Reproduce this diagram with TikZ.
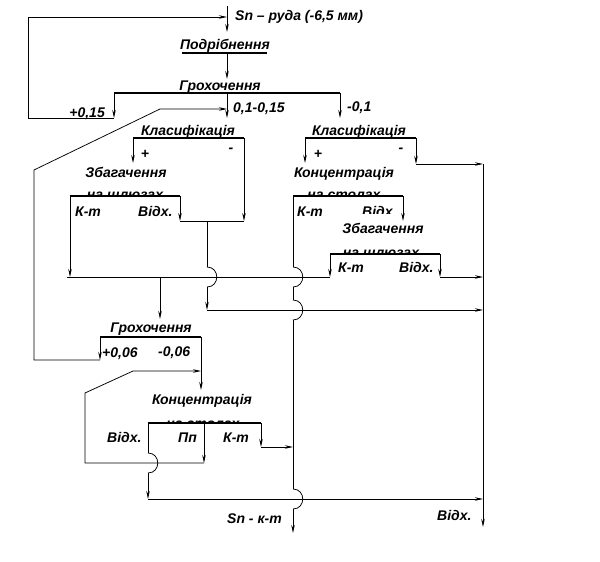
\documentclass[tikz,border=0pt]{standalone}
\usepackage{fontspec}
\setmainfont{Liberation Sans}
\newfontfamily\lblfam{Liberation Sans}
\usetikzlibrary{arrows.meta}
\tikzset{
  ln/.style={line width=0.75pt},
  arr/.style={ln,-{Stealth[length=8pt,width=3.5pt]}},
  procbar/.style={line width=2.6pt},
  lbl/.style={inner sep=0pt,font=\lblfam\bfseries\itshape\fontsize{14}{16}\selectfont},
  hump/.pic={\draw[ln] (0,-10) .. controls (13,-10) and (13,10) .. (0,10);}
}
\begin{document}
\begin{tikzpicture}[x=1pt,y=-1pt]
\useasboundingbox (0,0) rectangle (600,562);
% ---------- feed and crushing
\coordinate (feedTop) at (227,6);
\coordinate (feedIn) at (227,32);
\draw[arr] (feedTop) -- (feedIn);
\node[lbl,anchor=base west] (feed) at (235,20) {Sn – руда (-6,5 мм)};
\node[lbl,anchor=base] (crush) at (225,49) {Подрібнення};
\coordinate (crL) at (182,53); \coordinate (crR) at (267,53);
\draw[procbar] (crL) -- (crR);
\coordinate (crOut) at (227,54); \coordinate (scrIn) at (227,79);
\draw[arr] (crOut) -- (scrIn);
% ---------- screening 1
\node[lbl,anchor=base] (scr1) at (220,90) {Грохочення};
\coordinate (s1L) at (114,93); \coordinate (s1M) at (227,93); \coordinate (s1R) at (340,93);
\draw[procbar] (s1L) -- (s1R);
\coordinate (s1La) at (114,118); \coordinate (s1Ma) at (227,118); \coordinate (s1Ra) at (340,118);
\draw[arr] (s1L) -- (s1La);
\draw[arr] (s1M) -- (s1Ma);
\draw[arr] (s1R) -- (s1Ra);
\node[lbl,anchor=base east] (p015) at (105,117) {+0,15};
\node[lbl,anchor=base west] (m015) at (233,112) {0,1-0,15};
\node[lbl,anchor=base west] (m01) at (347,111) {-0,1};
\coordinate (rcA) at (28,118); \coordinate (rcB) at (28,17); \coordinate (rcC) at (227,17);
\draw[arr] (s1La) -- (rcA) -- (rcB) -- (rcC);
% ---------- classification left
\node[lbl,anchor=base] (clsL) at (188,135) {Класифікація};
\coordinate (cLl) at (133,138); \coordinate (cLr) at (244,138);
\draw[procbar] (cLl) -- (cLr);
\coordinate (cLla) at (133,163); \coordinate (cLra) at (244,221);
\draw[arr] (cLl) -- (cLla);
\draw[arr] (cLr) -- (cLra);
\node[lbl] (cLp) at (145,154) {+};
\node[lbl] (cLm) at (231,150) {-};
% ---------- enrichment left
\node[lbl,anchor=base] (enL) at (126,177) {Збагачення};
\begin{scope}
\clip (60,180) rectangle (190,195);
\node[lbl,anchor=base] (enL2) at (125,199) {на шлюзах};
\end{scope}
\coordinate (eLl) at (70,196); \coordinate (eLr) at (180,196);
\draw[procbar] (eLl) -- (eLr);
\node[lbl,anchor=base west] (eLk) at (75,216) {К-т};
\node[lbl,anchor=base west] (eLv) at (138,216) {Відх.};
\coordinate (eLla) at (70,277); \coordinate (eLra) at (180,221);
\draw[arr] (eLl) -- (eLla);
\draw[arr] (eLr) -- (eLra);
\draw[ln] (eLra) -- (cLra);
\coordinate (tLa) at (207,221); \coordinate (tLb) at (207,267);
\coordinate (tLc) at (207,287); \coordinate (tLd) at (207,310);
\draw[ln] (tLa) -- (tLb);
\pic at (207,277) {hump};
\draw[arr] (tLc) -- (tLd);
\coordinate (tailE) at (483,310);
\draw[arr] (tLd) -- (tailE);
% ---------- collector of concentrates
\coordinate (colL) at (67,277); \coordinate (colR) at (330,277);
\coordinate (colD) at (160,277); \coordinate (colDa) at (160,319);
\draw[ln] (colL) -- (colR);
\draw[arr] (colD) -- (colDa);
% ---------- classification right
\node[lbl,anchor=base] (clsR) at (359,135) {Класифікація};
\coordinate (cRl) at (305,138); \coordinate (cRr) at (416,138);
\draw[procbar] (cRl) -- (cRr);
\coordinate (cRla) at (305,163); \coordinate (cRra) at (416,164);
\draw[arr] (cRl) -- (cRla);
\draw[arr] (cRr) -- (cRra);
\node[lbl] (cRp) at (318,154) {+};
\node[lbl] (cRm) at (401,150) {-};
\coordinate (wE1) at (483,164); \coordinate (wBot) at (483,527);
\draw[arr] (cRra) -- (wE1);
\draw[arr] (wE1) -- (wBot);
% ---------- concentration right
\node[lbl,anchor=base] (coR) at (344,177) {Концентрація};
\begin{scope}
\clip (280,180) rectangle (410,195);
\node[lbl,anchor=base] (coR2) at (344,199) {на столах};
\end{scope}
\coordinate (kRl) at (293,196); \coordinate (kRr) at (403,196);
\draw[procbar] (kRl) -- (kRr);
\node[lbl,anchor=base west] (kRk) at (297,216) {К-т};
\begin{scope}
\clip (355,200) rectangle (400,213);
\node[lbl,anchor=base west] (kRv) at (362,216) {Відх};
\end{scope}
\coordinate (kRra) at (403,221);
\draw[arr] (kRr) -- (kRra);
% concentrate line x=293
\coordinate (v1) at (293,267); \coordinate (v2) at (293,287);
\coordinate (v3) at (293,300); \coordinate (v4) at (293,320);
\coordinate (v5) at (293,489); \coordinate (v6) at (293,509);
\coordinate (v7) at (293,533);
\draw[ln] (kRl) -- (v1);
\pic at (293,277) {hump};
\draw[ln] (v2) -- (v3);
\pic at (293,310) {hump};
\draw[ln] (v4) -- (v5);
\pic at (293,499) {hump};
\draw[arr] (v6) -- (v7);
\node[lbl,anchor=base west] (snk) at (227,523) {Sn - к-т};
% ---------- enrichment right
\node[lbl,anchor=base] (enR) at (383,233) {Збагачення};
\begin{scope}
\clip (320,240) rectangle (450,253);
\node[lbl,anchor=base] (enR2) at (381,257) {на шлюзах};
\end{scope}
\coordinate (eRl) at (330,254); \coordinate (eRr) at (440,254);
\draw[procbar] (eRl) -- (eRr);
\node[lbl,anchor=base west] (eRk) at (338,272) {К-т};
\node[lbl,anchor=base west] (eRv) at (399,272) {Відх.};
\coordinate (eRla) at (330,277); \coordinate (eRra) at (440,277);
\draw[arr] (eRl) -- (eRla);
\draw[arr] (eRr) -- (eRra);
\coordinate (wE2) at (483,277);
\draw[arr] (eRra) -- (wE2);
% ---------- screening 2
\node[lbl,anchor=base] (scr2) at (151,332) {Грохочення};
\coordinate (s2L) at (100,337); \coordinate (s2R) at (201,337);
\draw[procbar] (s2L) -- (s2R);
\coordinate (s2La) at (100,360); \coordinate (s2Ra) at (201,390);
\draw[arr] (s2L) -- (s2La);
\draw[arr] (s2R) -- (s2Ra);
\node[lbl,anchor=base west] (p006) at (102,357) {+0,06};
\node[lbl,anchor=base west] (m006) at (158,356) {-0,06};
\coordinate (r2A) at (34,360); \coordinate (r2B) at (34,170);
\coordinate (r2C) at (160,109); \coordinate (r2D) at (227,109);
\draw[arr] (s2La) -- (r2A) -- (r2B) -- (r2C) -- (r2D);
% ---------- concentration lower
\node[lbl,anchor=base] (coL) at (202,404) {Концентрація};
\begin{scope}
\clip (140,410) rectangle (265,422);
\node[lbl,anchor=base] (coL2) at (203,428) {на столах};
\end{scope}
\coordinate (kLl) at (148,423); \coordinate (kLm) at (204,423); \coordinate (kLr) at (261,423);
\draw[procbar] (kLl) -- (kLr);
\node[lbl,anchor=base west] (kLv) at (107,442) {Відх.};
\node[lbl,anchor=base west] (kLp) at (178,442) {Пп};
\node[lbl,anchor=base west] (kLk) at (223,442) {К-т};
\coordinate (ppA) at (204,463); \coordinate (ppB) at (85,463);
\coordinate (ppC) at (85,393); \coordinate (ppD) at (133,371); \coordinate (ppE) at (201,371);
\draw[arr] (kLm) -- (ppA);
\draw[arr] (ppA) -- (ppB) -- (ppC) -- (ppD) -- (ppE);
\coordinate (kka) at (261,447); \coordinate (kkb) at (293,447);
\draw[arr] (kLr) -- (kka);
\draw[arr] (kka) -- (kkb);
\coordinate (wvA) at (148,453); \coordinate (wvB) at (148,473);
\coordinate (wvC) at (148,499); \coordinate (wvD) at (483,499);
\draw[ln] (kLl) -- (wvA);
\pic at (148,463) {hump};
\draw[arr] (wvB) -- (wvC);
\draw[arr] (wvC) -- (wvD);
\node[lbl,anchor=base west] (wst) at (437,520) {Відх.};
\end{tikzpicture}
\end{document}
